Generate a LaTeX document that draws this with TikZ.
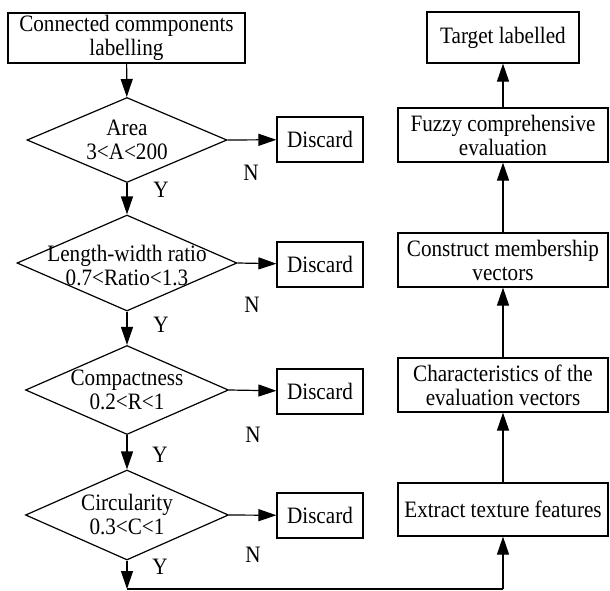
\documentclass[tikz,border=0pt]{standalone}
\usepackage{fontspec}
\setmainfont[FakeStretch=0.9]{Liberation Serif}
\usetikzlibrary{shapes.geometric,arrows.meta}

\begin{document}
\begin{tikzpicture}[x=1pt,y=-1pt,line width=1.2pt,
  font=\fontsize{23.5}{24}\selectfont,
  box/.style={draw,rectangle,inner sep=0pt,align=center},
  test/.style={draw,diamond,inner sep=0pt},
  flow/.style={-{Triangle[length=18pt,width=12pt]}}]
\useasboundingbox (0,0) rectangle (610,590);

% left column: filtering the components
\node[box,minimum width=237pt,minimum height=50pt] (ccl) at (126.5,38) {Connected commponents\\labelling};
\node[test,minimum width=200pt,minimum height=85pt,label={[align=center]center:Area\\3<A<200}] (area) at (127,140) {};
\node[test,minimum width=220pt,minimum height=96pt,label={[align=center,yshift=-3pt]center:Length-width ratio\\0.7<Ratio<1.3}] (ratio) at (127,263) {};
\node[test,minimum width=203pt,minimum height=89pt,label={[align=center]center:Compactness\\0.2<R<1}] (comp) at (127,390) {};
\node[test,minimum width=203pt,minimum height=90pt,label={[align=center]center:Circularity\\0.3<C<1}] (circ) at (127,515) {};

\node[box,minimum width=86pt,minimum height=45pt] (dis1) at (320,139.5) {Discard};
\node[box,minimum width=86pt,minimum height=45pt] (dis2) at (320,264.5) {Discard};
\node[box,minimum width=86pt,minimum height=45pt] (dis3) at (320,391.5) {Discard};
\node[box,minimum width=86pt,minimum height=45pt] (dis4) at (320,515.5) {Discard};

\node (y1) at (161,190) {Y};
\node (y2) at (161,325) {Y};
\node (y3) at (160,455) {Y};
\node (y4) at (160,567) {Y};
\node (n1) at (251,173) {N};
\node (n2) at (252,305) {N};
\node (n3) at (253,435) {N};
\node (n4) at (253,555) {N};

\draw[flow] (ccl) -- (area);
\draw[flow] (area) -- (ratio);
\draw[flow] (ratio) -- (comp);
\draw[flow] (comp) -- (circ);
\draw[flow] (area.east) -- (dis1);
\draw[flow] (ratio.east) -- (dis2);
\draw[flow] (comp.east) -- (dis3);
\draw[flow] (circ.east) -- (dis4);

% right column: evaluation
\node[box,minimum width=152pt,minimum height=51pt] (tgt) at (503,37.5) {Target labelled};
\node[box,minimum width=210pt,minimum height=54pt] (fuz) at (503,135) {Fuzzy comprehensive\\evaluation};
\node[box,minimum width=210pt,minimum height=54pt] (mem) at (503,260) {Construct membership\\vectors};
\node[box,minimum width=210pt,minimum height=54pt] (chr) at (503,385) {Characteristics of the\\evaluation vectors};
\node[box,minimum width=210pt,minimum height=53pt] (ext) at (503,509.5) {Extract texture features};

\draw[flow] (fuz) -- (tgt);
\draw[flow] (mem) -- (fuz);
\draw[flow] (chr) -- (mem);
\draw[flow] (ext) -- (chr);

% bottom link
\coordinate (c1) at (127,589);
\coordinate (c2) at (503,589);
\draw[flow] (circ) -- (c1);
\draw (c1) -- (c2);
\draw[flow] (c2) -- (ext);
\end{tikzpicture}
\end{document}
